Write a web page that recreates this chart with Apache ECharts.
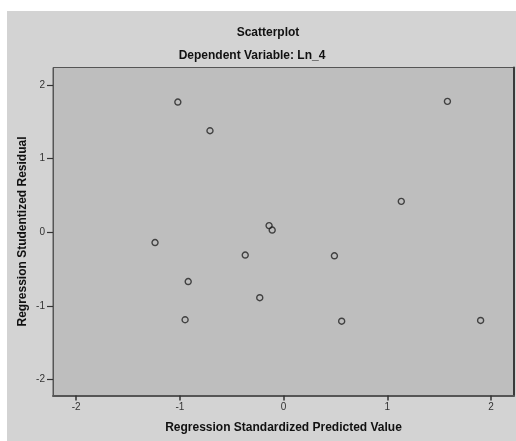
<!DOCTYPE html>
<html>
<head>
<meta charset="utf-8">
<script src="https://cdn.jsdelivr.net/npm/echarts@6/dist/echarts.min.js"></script>
<style>
html,body{margin:0;padding:0;background:#ffffff;}
#bg{position:absolute;left:7px;top:11px;width:509px;height:430px;background:#d3d3d3;}
#chart{position:absolute;left:0;top:0;width:516px;height:441px;}
</style>
</head>
<body>
<div id="bg"></div>
<div id="chart"></div>
<script>
// Data
var predictedValues = [-1.02, -0.71, -1.24, -0.92, -0.95, -0.37, -0.23, -0.14, -0.11, 0.49, 0.56, 1.135, 1.58, 1.90];
var studentizedResiduals = [1.77, 1.38, -0.14, -0.67, -1.19, -0.31, -0.89, 0.09, 0.03, -0.32, -1.21, 0.42, 1.78, -1.20];
var xTicks = [-2, -1, 0, 1, 2];
var yTicks = [-2, -1, 0, 1, 2];
var titleText = 'Scatterplot';
var subtitleText = 'Dependent Variable: Ln_4';
var xAxisName = 'Regression Standardized Predicted Value';
var yAxisName = 'Regression Studentized Residual';

var points = predictedValues.map(function (x, i) { return [x, studentizedResiduals[i]]; });
var FONT = '"Liberation Sans", Arial, sans-serif';

var chart = echarts.init(document.getElementById('chart'), null, {renderer: 'canvas'});
chart.setOption({
  backgroundColor: 'transparent',
  animation: false,
  title: [
    {text: titleText, left: 263, top: 22, textAlign: 'center',
     textStyle: {fontFamily: FONT, fontSize: 12, fontWeight: 'bold', color: '#111'}},
    {text: subtitleText, left: 247, top: 45, textAlign: 'center',
     textStyle: {fontFamily: FONT, fontSize: 12, fontWeight: 'bold', color: '#111'}}
  ],
  grid: {
    left: 53, top: 67.5, right: 2, bottom: 45.5,
    show: true, backgroundColor: '#bebebe', borderColor: '#555', borderWidth: 1
  },
  xAxis: {
    type: 'value', min: -2.224, max: 2.222,
    name: xAxisName, nameLocation: 'middle', nameGap: 26, nameMoveOverlap: false,
    nameTextStyle: {fontFamily: FONT, fontSize: 12, fontWeight: 'bold', color: '#111'},
    splitLine: {show: false},
    axisLine: {show: true, onZero: false, lineStyle: {color: '#555', width: 2}},
    axisTick: {show: true, length: 5, customValues: xTicks, lineStyle: {color: '#333', width: 1.5}},
    axisLabel: {customValues: xTicks, margin: 7, fontFamily: FONT, fontSize: 10, color: '#333'}
  },
  yAxis: [{
    type: 'value', min: -2.22, max: 2.24,
    name: yAxisName, nameLocation: 'middle', nameGap: 24, nameRotate: 90, nameMoveOverlap: false,
    nameTextStyle: {fontFamily: FONT, fontSize: 12, fontWeight: 'bold', color: '#111'},
    splitLine: {show: false},
    axisLine: {show: true, onZero: false, lineStyle: {color: '#555', width: 1}},
    axisTick: {show: true, length: 6, customValues: yTicks, lineStyle: {color: '#333', width: 1.2}},
    axisLabel: {customValues: yTicks, margin: 8, fontFamily: FONT, fontSize: 10, color: '#333'}
  }, {
    type: 'value', min: -2.22, max: 2.24, position: 'right',
    splitLine: {show: false},
    axisLine: {show: true, onZero: false, lineStyle: {color: '#3a3a3a', width: 2}},
    axisTick: {show: false}, axisLabel: {show: false}
  }],
  series: [{
    type: 'scatter',
    data: points,
    symbol: 'circle',
    symbolSize: 6,
    itemStyle: {color: 'rgba(0,0,0,0)', borderColor: '#222', borderWidth: 1.4}
  }]
});
</script>
</body>
</html>
